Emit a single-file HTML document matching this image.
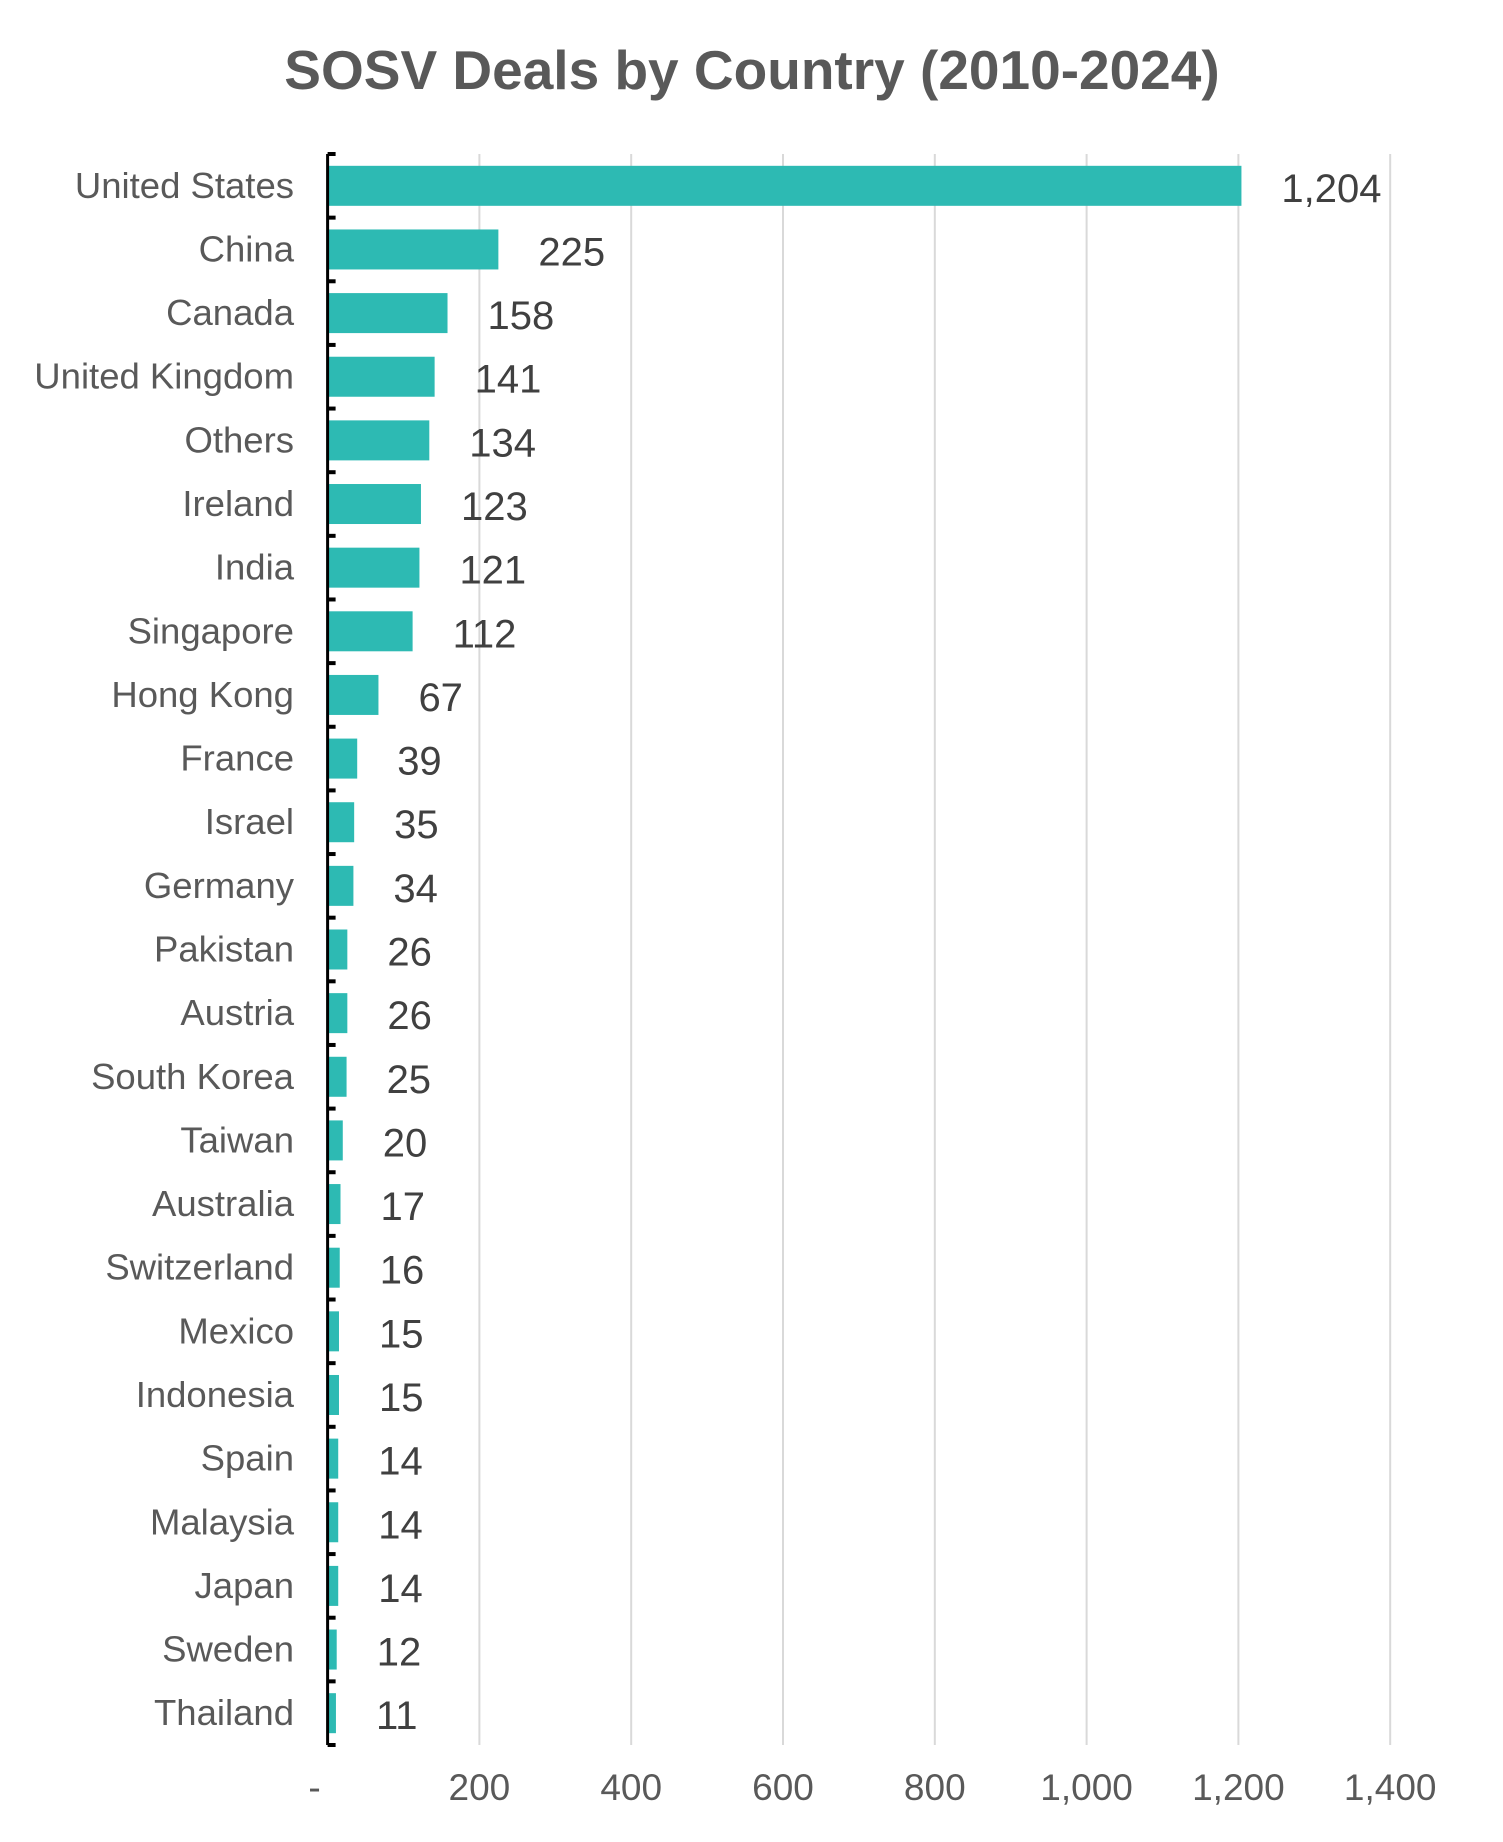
<!DOCTYPE html>
<html><head><meta charset="utf-8"><style>
body{margin:0;background:#fff}
svg{display:block;font-family:"Liberation Sans",sans-serif}
</style></head><body>
<svg id="chart" width="1503" height="1842" viewBox="0 0 1503 1842">
<text x="752" y="89" text-anchor="middle" font-size="55" font-weight="bold" fill="#595959">SOSV Deals by Country (2010-2024)</text>
<g id="grid"></g><g id="bars"></g><g id="axis"></g>
</svg>
<script>
const categories=["United States","China","Canada","United Kingdom","Others","Ireland","India","Singapore","Hong Kong","France","Israel","Germany","Pakistan","Austria","South Korea","Taiwan","Australia","Switzerland","Mexico","Indonesia","Spain","Malaysia","Japan","Sweden","Thailand"];
const values=[1204,225,158,141,134,123,121,112,67,39,35,34,26,26,25,20,17,16,15,15,14,14,14,12,11];
const tickValues=[0,200,400,600,800,1000,1200,1400];
const tickLabels=["-","200","400","600","800","1,000","1,200","1,400"];
const NS="http://www.w3.org/2000/svg";
const x0=327.6,pxPer=151.8/200,yTop=154,yBot=1745;
const band=(yBot-yTop)/categories.length;
const xs=v=>x0+v*pxPer;
const ys=i=>yTop+i*band;
function mk(tag,attrs,parent){const e=document.createElementNS(NS,tag);for(const k in attrs)e.setAttribute(k,attrs[k]);parent.appendChild(e);return e;}
const grid=document.getElementById('grid'),bars=document.getElementById('bars'),axis=document.getElementById('axis');
tickValues.forEach((t,i)=>{
  if(t>0){const l=mk('line',{x1:xs(t),x2:xs(t),y1:yTop,y2:yBot,stroke:'#d9d9d9','stroke-width':2},grid);
  
  }
  const tx=mk('text',{x:t===0?x0-13:xs(t),y:1800,'text-anchor':'middle','font-size':37,fill:'#595959'},axis);
  tx.textContent=tickLabels[i];
  
  
});
categories.forEach((c,i)=>{
  const by=ys(i)+(band-40)/2;
  const r=mk('rect',{x:x0,y:by,width:Math.max(0,xs(values[i])-x0),height:40,fill:'#2DBAB3'},bars);
  
  
  const lb=mk('text',{x:294,y:by+32,'text-anchor':'end','font-size':36.5,fill:'#595959'},axis);
  lb.textContent=c;
  
  
  const vl=mk('text',{x:xs(values[i])+40,y:by+36,'font-size':40,fill:'#404040'},axis);
  vl.textContent=values[i].toLocaleString('en-US');
  
  
});
for(let i=0;i<=categories.length;i++){
  const tk=mk('line',{x1:x0,x2:x0+8,y1:ys(i),y2:ys(i),stroke:'#000','stroke-width':4},axis);
  
  
}
const ax=mk('line',{x1:x0,x2:x0,y1:yTop,y2:yBot,stroke:'#000','stroke-width':3},axis);


</script>
</body></html>
